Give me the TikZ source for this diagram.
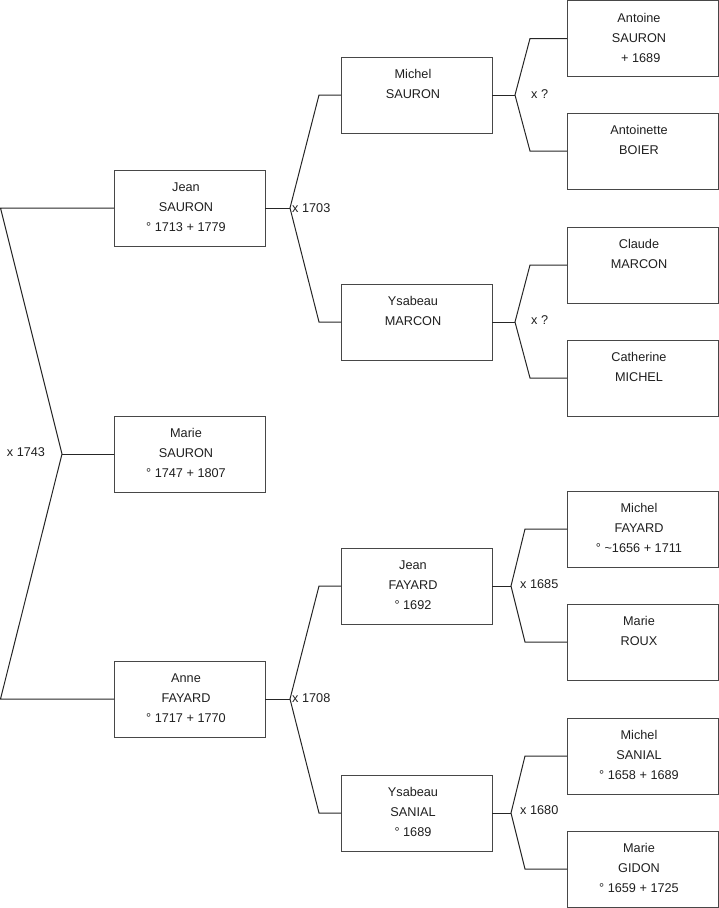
\documentclass[tikz,border=0pt]{standalone}
\usepackage{fontspec}
\setmainfont{Liberation Sans}
\newcommand{\pcontent}[1]{\parbox[t][76pt][t]{151pt}{\centering\advance\rightskip by 7pt\fontsize{12.7}{20}\selectfont\rule{0pt}{21.6pt}#1}}
\tikzset{
  person/.style={draw=black!72, line width=1pt, inner sep=0pt, outer sep=0pt, anchor=north west, text=black!88},
  link/.style={draw=black!85, line width=1pt},
  mar/.style={font=\fontsize{12.7}{14}\selectfont, inner sep=0pt, text=black!88}
}
\begin{document}
\begin{tikzpicture}[x=1pt,y=-1pt]
\useasboundingbox (0,0) rectangle (719,908);
% generation 1
\node[person] (jeanS) at (114,170) {\pcontent{Jean\\SAURON\\° 1713 + 1779}};
\node[person] (marieS) at (114,416) {\pcontent{Marie\\SAURON\\° 1747 + 1807}};
\node[person] (anneF) at (114,661) {\pcontent{Anne\\FAYARD\\° 1717 + 1770}};
% generation 2
\node[person] (michelS) at (341,57) {\pcontent{Michel\\SAURON}};
\node[person] (ysabM) at (341,284) {\pcontent{Ysabeau\\MARCON}};
\node[person] (jeanF) at (341,548) {\pcontent{Jean\\FAYARD\\° 1692}};
\node[person] (ysabS) at (341,775) {\pcontent{Ysabeau\\SANIAL\\° 1689}};
% generation 3
\node[person] (antoineS) at (567,0.5) {\pcontent{Antoine\\SAURON\\\ + 1689}};
\node[person] (antoinetteB) at (567,113) {\pcontent{Antoinette\\BOIER}};
\node[person] (claudeM) at (567,227) {\pcontent{Claude\\MARCON}};
\node[person] (catherineM) at (567,340) {\pcontent{Catherine\\MICHEL}};
\node[person] (michelF) at (567,491) {\pcontent{Michel\\FAYARD\\° \textasciitilde1656 + 1711}};
\node[person] (marieR) at (567,604) {\pcontent{Marie\\ROUX}};
\node[person] (michelSa) at (567,718) {\pcontent{Michel\\SANIAL\\° 1658 + 1689}};
\node[person] (marieG) at (567,831) {\pcontent{Marie\\GIDON\\° 1659 + 1725}};
% coordinates
\coordinate (r0) at (62,454);
\coordinate (r1) at (0.5,208);
\coordinate (r2) at (0.5,699);
\coordinate (a0) at (290,208);
\coordinate (a1) at (319,95);
\coordinate (a2) at (319,322);
\coordinate (b0) at (290,699);
\coordinate (b1) at (319,586);
\coordinate (b2) at (319,813);
\coordinate (c0) at (515,95);
\coordinate (c1) at (530,38.5);
\coordinate (c2) at (530,151);
\coordinate (d0) at (515,322);
\coordinate (d1) at (530,265);
\coordinate (d2) at (530,378);
\coordinate (e0) at (511,586);
\coordinate (e1) at (525,529);
\coordinate (e2) at (525,642);
\coordinate (f0) at (511,813);
\coordinate (f1) at (525,756);
\coordinate (f2) at (525,869);
% links
\draw[link] (marieS.west) -- (r0);
\draw[link] (jeanS.west) -- (r1) -- (r0) -- (r2) -- (anneF.west);
\draw[link] (jeanS.east) -- (a0);
\draw[link] (michelS.west) -- (a1) -- (a0) -- (a2) -- (ysabM.west);
\draw[link] (anneF.east) -- (b0);
\draw[link] (jeanF.west) -- (b1) -- (b0) -- (b2) -- (ysabS.west);
\draw[link] (michelS.east) -- (c0);
\draw[link] (antoineS.west) -- (c1) -- (c0) -- (c2) -- (antoinetteB.west);
\draw[link] (ysabM.east) -- (d0);
\draw[link] (claudeM.west) -- (d1) -- (d0) -- (d2) -- (catherineM.west);
\draw[link] (jeanF.east) -- (e0);
\draw[link] (michelF.west) -- (e1) -- (e0) -- (e2) -- (marieR.west);
\draw[link] (ysabS.east) -- (f0);
\draw[link] (michelSa.west) -- (f1) -- (f0) -- (f2) -- (marieG.west);
% marriage labels
\node[mar] (m1743) at (26,452) {x 1743};
\node[mar, anchor=west] (m1703) at (292,208) {x 1703};
\node[mar, anchor=west] (m1708) at (292,698) {x 1708};
\node[mar, anchor=west] (mq1) at (531,94) {x ?};
\node[mar, anchor=west] (mq2) at (531,320) {x ?};
\node[mar, anchor=west] (m1685) at (520,584) {x 1685};
\node[mar, anchor=west] (m1680) at (520,810) {x 1680};
\end{tikzpicture}
\end{document}
